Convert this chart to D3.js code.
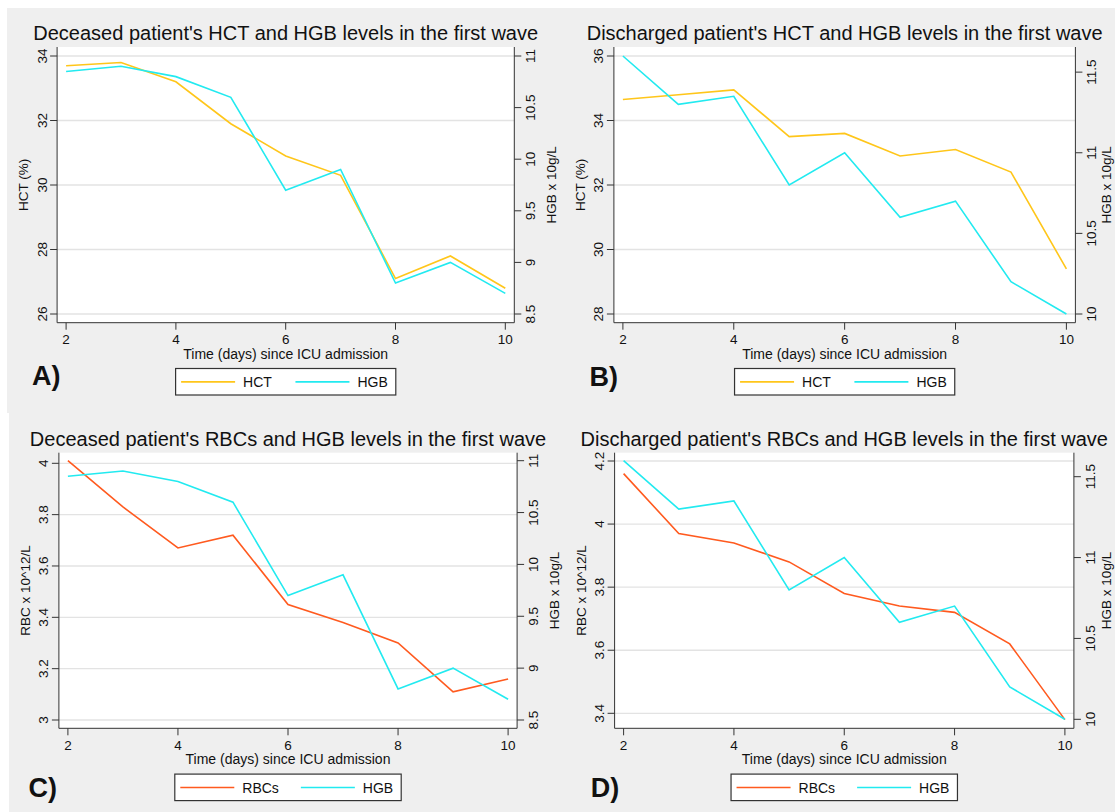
<html>
<head>
<meta charset="utf-8">
<script src="https://d3js.org/d3.v7.min.js"></script>
<style>
  body { margin: 0; background: #fff; }
  svg text { font-family: "Liberation Sans", Arial, sans-serif; fill: #111; }
</style>
</head>
<body>
<svg id="chart" width="1115" height="812"></svg>
<script>
// days since ICU admission
var days = [2, 3, 4, 5, 6, 7, 8, 9, 10];
var xTicks = [2, 4, 6, 8, 10];

// deceased patients
var hctDeceased = [33.7, 33.8, 33.2, 31.9, 30.9, 30.3, 27.1, 27.8, 26.8];
var hgbDeceased = [10.85, 10.9, 10.8, 10.6, 9.7, 9.9, 8.8, 9.0, 8.7];
var rbcDeceased = [4.01, 3.83, 3.67, 3.72, 3.45, 3.38, 3.30, 3.11, 3.16];

// discharged patients
var hctDischarged = [34.65, 34.8, 34.95, 33.5, 33.6, 32.9, 33.1, 32.4, 29.4];
var hgbDischarged = [11.6, 11.3, 11.35, 10.8, 11.0, 10.6, 10.7, 10.2, 10.0];
var rbcDischarged = [4.16, 3.97, 3.94, 3.88, 3.78, 3.74, 3.72, 3.62, 3.38];

// axis ticks
var hctDecTicks = [26, 28, 30, 32, 34];
var hgbDecTicks = [8.5, 9, 9.5, 10, 10.5, 11];
var hctDisTicks = [28, 30, 32, 34, 36];
var hgbDisTicks = [10, 10.5, 11, 11.5];
var rbcDecTicks = [3, 3.2, 3.4, 3.6, 3.8, 4];
var rbcDisTicks = [3.4, 3.6, 3.8, 4, 4.2];

var gold = "#ffc61a", cyan = "#22eaf0", orange = "#ff5a1f";

var svg = d3.select("#chart");

// grey graph backgrounds
svg.append("rect").attr("x", 7).attr("y", 8).attr("width", 1108).attr("height", 405).attr("fill", "#efefef");
svg.append("rect").attr("x", 9).attr("y", 413).attr("width", 1106).attr("height", 399).attr("fill", "#efefef");

var panels = [
  { letter: "A)", title: "Deceased patient's HCT and HGB levels in the first wave",
    frame: [57.1, 514.3, 47, 322.7], letterX: 32, letterY: 385, rTitleOff: 42,
    left: hctDeceased, leftTicks: hctDecTicks, leftDom: [26, 34], leftRange: [314, 56], leftTitle: "HCT (%)", leftName: "HCT", leftColor: gold,
    right: hgbDeceased, rightTicks: hgbDecTicks, rightDom: [8.5, 11], rightRange: [314, 56] },
  { letter: "B)", title: "Discharged patient's HCT and HGB levels in the first wave",
    frame: [613.9, 1075.4, 47, 322.7], letterX: 589.6, letterY: 386, rTitleOff: 36,
    left: hctDischarged, leftTicks: hctDisTicks, leftDom: [28, 36], leftRange: [314, 56], leftTitle: "HCT (%)", leftName: "HCT", leftColor: gold,
    right: hgbDischarged, rightTicks: hgbDisTicks, rightDom: [10, 11.6], rightRange: [314, 56] },
  { letter: "C)", title: "Deceased patient's RBCs and HGB levels in the first wave",
    frame: [58.9, 517.1, 452.7, 728.3], letterX: 28.6, letterY: 796.7, rTitleOff: 42,
    left: rbcDeceased, leftTicks: rbcDecTicks, leftDom: [3, 4], leftRange: [720, 463.3], leftTitle: "RBC x 10^12/L", leftName: "RBCs", leftColor: orange,
    right: hgbDeceased, rightTicks: hgbDecTicks, rightDom: [8.5, 11], rightRange: [720, 460.7] },
  { letter: "D)", title: "Discharged patient's RBCs and HGB levels in the first wave",
    frame: [614.6, 1073.9, 452.7, 728.3], letterX: 590.7, letterY: 796.7, rTitleOff: 37,
    left: rbcDischarged, leftTicks: rbcDisTicks, leftDom: [3.4, 4.2], leftRange: [713.3, 461], leftTitle: "RBC x 10^12/L", leftName: "RBCs", leftColor: orange,
    right: hgbDischarged, rightTicks: hgbDisTicks, rightDom: [10, 11.5], rightRange: [719.3, 476.7] }
];

panels.forEach(drawPanel);

function drawPanel(p) {
  var x0 = p.frame[0], x1 = p.frame[1], y0 = p.frame[2], y1 = p.frame[3];
  var g = svg.append("g");

  var x = d3.scaleLinear().domain([2, 10]).range([x0 + 9, x1 - 9]);
  var yL = d3.scaleLinear().domain(p.leftDom).range(p.leftRange);
  var yR = d3.scaleLinear().domain(p.rightDom).range(p.rightRange);

  // plot region
  g.append("rect").attr("x", x0).attr("y", y0).attr("width", x1 - x0).attr("height", y1 - y0).attr("fill", "#fff");

  // gridlines
  g.selectAll(".grid").data(p.leftTicks).enter().append("line")
    .attr("x1", x0).attr("x2", x1)
    .attr("y1", function(d) { return yL(d); }).attr("y2", function(d) { return yL(d); })
    .attr("stroke", "#e3e3e3").attr("stroke-width", 1.3);

  // lines
  var lineL = d3.line().x(function(d, i) { return x(days[i]); }).y(function(d) { return yL(d); });
  var lineR = d3.line().x(function(d, i) { return x(days[i]); }).y(function(d) { return yR(d); });
  g.append("path").attr("d", lineL(p.left)).attr("fill", "none").attr("stroke", p.leftColor).attr("stroke-width", 1.6);
  g.append("path").attr("d", lineR(p.right)).attr("fill", "none").attr("stroke", cyan).attr("stroke-width", 1.6);

  // axes lines
  var ax = "#333";
  g.append("line").attr("x1", x0).attr("x2", x0).attr("y1", y0).attr("y2", y1).attr("stroke", ax);
  g.append("line").attr("x1", x1).attr("x2", x1).attr("y1", y0).attr("y2", y1).attr("stroke", ax);
  g.append("line").attr("x1", x0).attr("x2", x1).attr("y1", y1).attr("y2", y1).attr("stroke", ax);

  // x ticks
  g.selectAll(".xt").data(xTicks).enter().append("line")
    .attr("x1", function(d) { return x(d); }).attr("x2", function(d) { return x(d); })
    .attr("y1", y1).attr("y2", y1 + 7).attr("stroke", ax);
  g.selectAll(".xl").data(xTicks).enter().append("text")
    .attr("x", function(d) { return x(d); }).attr("y", y1 + 21.5)
    .attr("text-anchor", "middle").style("font-size", "13.5px").text(function(d) { return d; });

  // left ticks
  g.selectAll(".lt").data(p.leftTicks).enter().append("line")
    .attr("x1", x0 - 7).attr("x2", x0)
    .attr("y1", function(d) { return yL(d); }).attr("y2", function(d) { return yL(d); }).attr("stroke", ax);
  g.selectAll(".ll").data(p.leftTicks).enter().append("text")
    .attr("transform", function(d) { return "translate(" + (x0 - 10.5) + "," + yL(d) + ") rotate(-90)"; })
    .attr("text-anchor", "middle").style("font-size", "13.5px").text(function(d) { return d; });

  // right ticks
  g.selectAll(".rt").data(p.rightTicks).enter().append("line")
    .attr("x1", x1).attr("x2", x1 + 7)
    .attr("y1", function(d) { return yR(d); }).attr("y2", function(d) { return yR(d); }).attr("stroke", ax);
  g.selectAll(".rl").data(p.rightTicks).enter().append("text")
    .attr("transform", function(d) { return "translate(" + (x1 + 21) + "," + yR(d) + ") rotate(-90)"; })
    .attr("text-anchor", "middle").style("font-size", "13.5px").text(function(d) { return d; });

  var cx = (x0 + x1) / 2, cy = (y0 + y1) / 2;

  // axis titles
  g.append("text").attr("transform", "translate(" + (x0 - 29) + "," + cy + ") rotate(-90)")
    .attr("text-anchor", "middle").style("font-size", "13.5px").text(p.leftTitle);
  g.append("text").attr("transform", "translate(" + (x1 + p.rTitleOff) + "," + cy + ") rotate(-90)")
    .attr("text-anchor", "middle").style("font-size", "13.5px").text("HGB x 10g/L");
  g.append("text").attr("x", cx).attr("y", y1 + 36)
    .attr("text-anchor", "middle").style("font-size", "14px").text("Time (days) since ICU admission");

  // title
  g.append("text").attr("x", cx).attr("y", y0 - 7)
    .attr("text-anchor", "middle").style("font-size", "20px").text(p.title);

  // panel letter
  g.append("text").attr("x", p.letterX).attr("y", p.letterY)
    .style("font-size", "27px").style("font-weight", "bold").text(p.letter);

  // legend
  var names = [p.leftName, "HGB"], colors = [p.leftColor, cyan];
  var tmp = g.append("text").style("font-size", "14px");
  var widths = names.map(function(n) { tmp.text(n); return tmp.node().getComputedTextLength(); });
  tmp.remove();
  var lineLen = 54, gap = 8, colW = lineLen + gap + d3.max(widths) + 22;
  var boxW = 5.5 + colW + lineLen + gap + widths[1] + 8;
  var bx = cx - boxW / 2, by = y1 + 45.8;
  var leg = g.append("g");
  leg.append("rect").attr("x", bx).attr("y", by).attr("width", boxW).attr("height", 26.5)
    .attr("fill", "#fff").attr("stroke", "#333").attr("stroke-width", 1.2);
  names.forEach(function(n, i) {
    var lx = bx + 5.5 + i * colW;
    leg.append("line").attr("x1", lx).attr("x2", lx + lineLen).attr("y1", by + 13.4).attr("y2", by + 13.4)
      .attr("stroke", colors[i]).attr("stroke-width", 1.6);
    leg.append("text").attr("x", lx + lineLen + gap).attr("y", by + 18.5)
      .style("font-size", "14px").text(n);
  });
}
</script>
</body>
</html>
